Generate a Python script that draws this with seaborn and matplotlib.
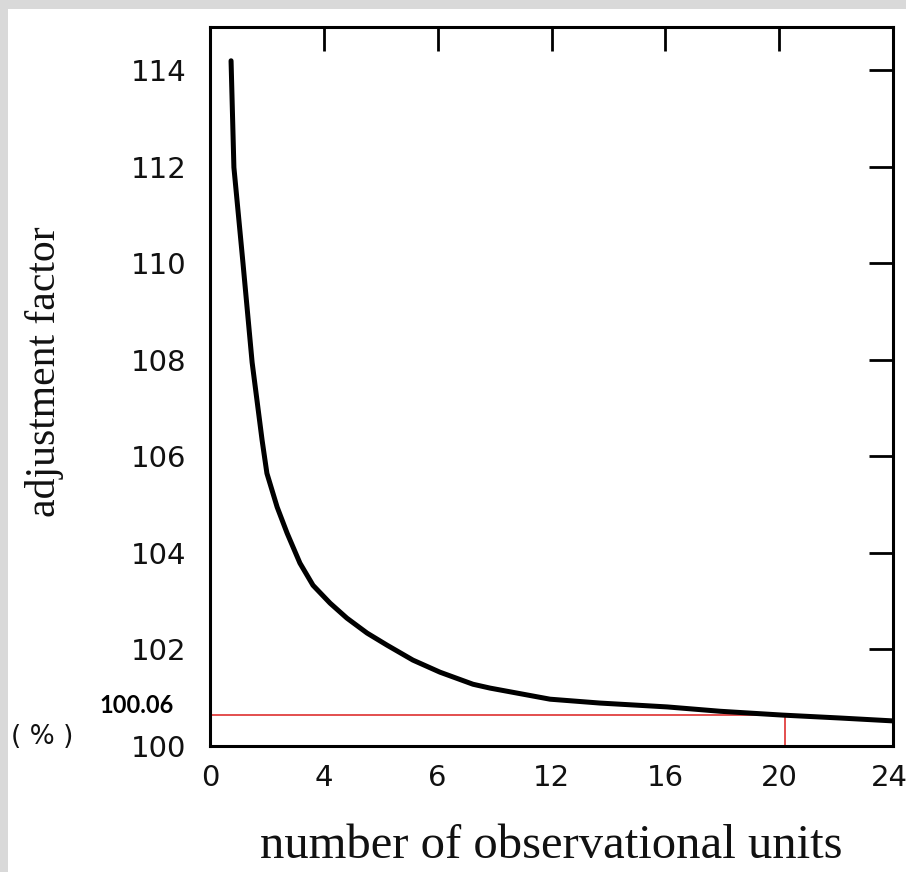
import matplotlib
matplotlib.use("Agg")
import matplotlib.pyplot as plt
import matplotlib.transforms as mtransforms
import seaborn as sns
import pandas as pd
from matplotlib.patches import Rectangle

# ---- data ----
units = [0.74, 0.84, 1.16, 1.48, 1.83, 2.00, 2.36, 2.71, 3.16, 3.62, 4.22, 4.81,
         5.52, 6.22, 7.13, 8.08, 9.24, 9.84, 11.95, 13.70, 16.06, 17.92, 20.13,
         22.14, 24.00]
factor = [114.20, 111.99, 110.00, 107.95, 106.34, 105.65, 104.95, 104.41, 103.79,
          103.33, 102.96, 102.65, 102.34, 102.09, 101.78, 101.53, 101.28, 101.20,
          100.97, 100.89, 100.81, 100.72, 100.64, 100.58, 100.52]

ref_units = 20.2
ref_factor = 100.64
ref_label = "100.06"

x_ticks = [0, 4, 8, 12, 16, 20, 24]
x_tick_labels = ["0", "4", "6", "12", "16", "20", "24"]
y_ticks = [100, 102, 104, 106, 108, 110, 112, 114]
y_tick_labels = ["100", "102", "104", "106", "108", "110", "112", "114"]

df = pd.DataFrame({"units": units, "factor": factor})

sns.set_style("white")
plt.rcParams["font.family"] = ["DejaVu Sans"]

fig = plt.figure(figsize=(9.06, 8.72), dpi=100)
fig.patch.set_facecolor("white")
# scan's grey border bands
fig.patches.append(Rectangle((0, 1 - 9 / 872), 1, 9 / 872, transform=fig.transFigure,
                             facecolor="#d9d9d9", edgecolor="none", zorder=0))
fig.patches.append(Rectangle((0, 0), 8 / 906, 1, transform=fig.transFigure,
                             facecolor="#d9d9d9", edgecolor="none", zorder=0))

ax = fig.add_axes([210 / 906, 1 - 746 / 872, 683 / 906, 719 / 872])
ax.set_facecolor("white")

sns.lineplot(data=df, x="units", y="factor", ax=ax, color="black",
             linewidth=3.6, sort=False, estimator=None)
ax.lines[-1].set_solid_joinstyle("round")

# red reference lines
ax.plot([0, ref_units], [ref_factor, ref_factor], color="#e04040", linewidth=1.3, zorder=1)
ax.plot([ref_units, ref_units], [100, ref_factor], color="#e04040", linewidth=1.3, zorder=1)

ax.set_xlim(0, 24)
ax.set_ylim(100, 114.9)
ax.set_xticks(x_ticks)
ax.set_xticklabels(x_tick_labels)
ax.set_yticks(y_ticks)
ax.set_yticklabels(y_tick_labels)
ax.set_xlabel("")
ax.set_ylabel("")

ax.tick_params(axis="both", which="major", direction="in", length=17, width=2,
               color="black", labelsize=21, labelcolor="#111111", top=True, right=True,
               labeltop=False, labelright=False)
ax.tick_params(axis="y", pad=17)
ax.tick_params(axis="x", pad=13)

# keep the last x label inside the picture
last = ax.get_xticklabels()[-1]
last.set_transform(last.get_transform() +
                   mtransforms.ScaledTranslation(-4 / 100, 0, fig.dpi_scale_trans))

for s in ax.spines.values():
    s.set_visible(True)
    s.set_color("black")
    s.set_linewidth(2.2)

# annotations
fig.text(137 / 906, 1 - 705 / 872, ref_label, fontsize=17, fontweight="bold",
         family="Lato", ha="center", va="center", color="black")
fig.text(42 / 906, 1 - 737 / 872, "( % )", fontsize=19, ha="center", va="center",
         color="#111111")

fig.text(551 / 906, 1 - 846 / 872, "number of observational units", fontsize=35,
         family="Liberation Serif", ha="center", va="center", color="#111111")
fig.text(45 / 906, 1 - 372 / 872, "adjustment factor", fontsize=30, rotation=90,
         family="Liberation Serif", ha="center", va="center", color="#111111")

fig.savefig("out.png", dpi=100, facecolor=fig.get_facecolor())
